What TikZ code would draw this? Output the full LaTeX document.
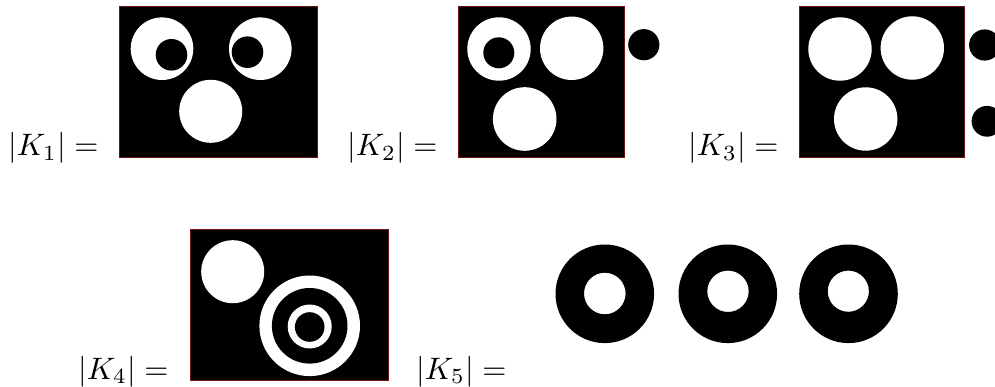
\documentclass[tikz,border=0pt]{standalone}
\begin{document}
\begin{tikzpicture}[x=1pt,y=-1pt,
  lbl/.style={scale=3.1,inner sep=0pt,anchor=base east},
  panel/.style={fill=black,draw={rgb,255:red,110;green,20;blue,20},line width=0.8pt},
  wdisc/.style={fill=white},
  bdisc/.style={fill=black}]
\useasboundingbox (0,0) rectangle (995,387);
% labels
\node[lbl] (l1) at (99,156) {$|K_1| =$};
\node[lbl] (l2) at (438,156) {$|K_2| =$};
\node[lbl] (l3) at (779,156) {$|K_3| =$};
\node[lbl] (l4) at (169,379) {$|K_4| =$};
\node[lbl] (l5) at (507,379) {$|K_5| =$};
% K1
\draw[panel] (119.3,6) rectangle (317.7,157.3);
\fill[wdisc] (162,48.7) circle (31.3);
\fill[bdisc] (171.5,54.8) circle (15.8);
\fill[wdisc] (260.3,48.7) circle (31.3);
\fill[bdisc] (247.5,52.2) circle (15.8);
\fill[wdisc] (210.7,111.3) circle (31.5);
% K2
\draw[panel] (458.3,6) rectangle (624,157.3);
\fill[wdisc] (499,49) circle (31.7);
\fill[bdisc] (498.8,52.8) circle (15.5);
\fill[wdisc] (571.7,48.3) circle (31.7);
\fill[wdisc] (524.7,119) circle (31.8);
\fill[bdisc] (643.8,44.7) circle (15.6);
% K3
\draw[panel] (799.3,6) rectangle (964.7,157.3);
\fill[wdisc] (840,49) circle (31.7);
\fill[wdisc] (912.3,48) circle (31.7);
\fill[wdisc] (865.7,119) circle (31.7);
\fill[bdisc] (984.7,45) circle (15.6);
\fill[bdisc] (987,121.3) circle (15.4);
% K4
\draw[panel] (190,229.3) rectangle (388,380.7);
\fill[wdisc] (232.7,271.7) circle (31.5);
\fill[wdisc] (309.7,325.8) circle (50.3);
\fill[bdisc] (309.7,325.8) circle (37.8);
\fill[wdisc] (309.7,326.5) circle (22);
\fill[bdisc] (309.7,327) circle (14.8);
% K5
\fill[bdisc,even odd rule] (604.8,293.8) circle (49.3) (604.8,293.5) circle (20.8);
\fill[bdisc,even odd rule] (727.8,293.8) circle (49.3) (728,291.3) circle (20.7);
\fill[bdisc,even odd rule] (848.5,293.8) circle (49.3) (848.3,291.2) circle (20.6);
\end{tikzpicture}
\end{document}
